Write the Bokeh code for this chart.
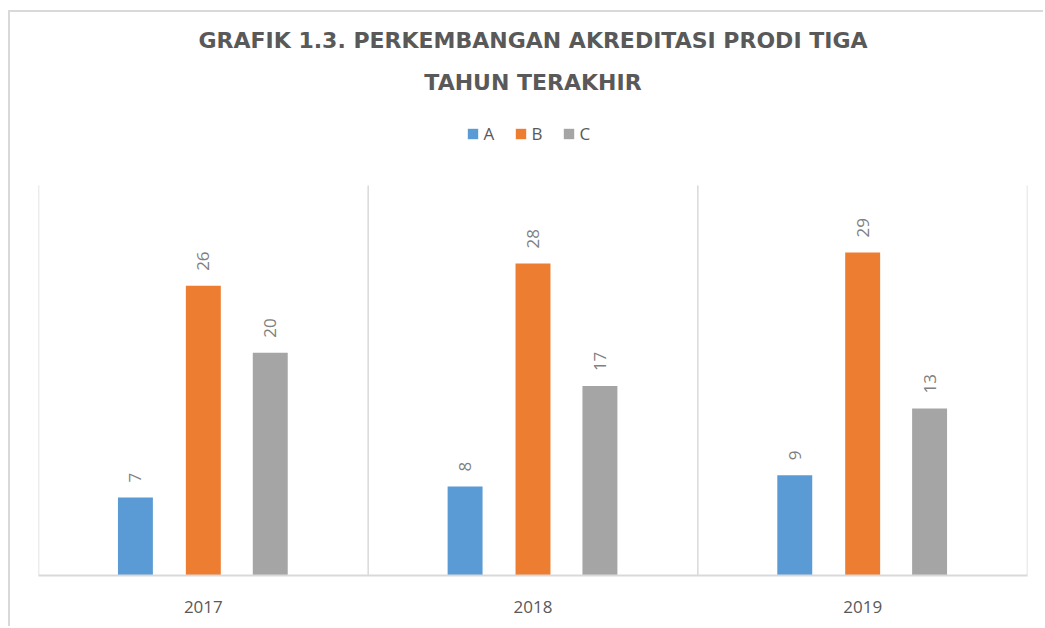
import math
from bokeh.plotting import figure
from bokeh.models import ColumnDataSource, Title, Legend, LegendItem, FixedTicker, Range1d
from bokeh.core.properties import value
from bokeh.embed import file_html
from bokeh.resources import INLINE

years = ["2017", "2018", "2019"]
series = ["A", "B", "C"]
vals_A = [7, 8, 9]
vals_B = [26, 28, 29]
vals_C = [20, 17, 15]
labels_A = ["7", "8", "9"]
labels_B = ["26", "28", "29"]
labels_C = ["20", "17", "13"]
colors = ["#5B9BD5", "#ED7D31", "#A5A5A5"]
y_max = 35

idx = list(range(len(years)))
offsets = [-0.206, 0.0, 0.203]
bar_w = 0.106

p = figure(width=1035, height=616, output_backend="svg", toolbar_location=None,
           x_range=Range1d(-0.5, 2.5), y_range=Range1d(0, 41.74),
           min_border_left=28, min_border_right=18, min_border_bottom=53, min_border_top=98)
p.margin = (10, 0, 0, 8)
p.styles = {"border-top": "2px solid #d9d9d9", "border-left": "2px solid #d9d9d9"}
p.outline_line_color = None
p.background_fill_color = "white"
p.border_fill_color = "white"
p.grid.visible = False

# category boundary gridlines
bounds = [i - 0.5 for i in idx] + [idx[-1] + 0.5]
p.segment(x0=bounds, y0=[0] * len(bounds), x1=bounds, y1=[y_max] * len(bounds),
          line_color="#d9d9d9", line_width=1.5)

renderers = []
for s, vals, labs, off, col in zip(series, [vals_A, vals_B, vals_C], [labels_A, labels_B, labels_C], offsets, colors):
    src = ColumnDataSource(dict(x=[i + off for i in idx], top=vals, lab=labs))
    r = p.vbar(x="x", top="top", width=bar_w, bottom=0, source=src, fill_color=col, line_color=None)
    renderers.append((s, r))
    p.text(x="x", y="top", text="lab", source=src, angle=math.pi / 2, y_offset=-15,
           text_align="left", text_baseline="middle", text_color="#808080",
           text_font=value("Open Sans"), text_font_size="17px")

p.yaxis.visible = False

xa = p.xaxis[0]
xa.ticker = FixedTicker(ticks=idx)
xa.major_label_overrides = {i: y for i, y in zip(idx, years)}
xa.axis_line_color = "#d9d9d9"
xa.axis_line_width = 2
xa.major_tick_line_color = None
xa.minor_tick_line_color = None
xa.major_label_text_font = "Open Sans"
xa.major_label_text_font_size = "17px"
xa.major_label_text_color = "#595959"
xa.major_label_standoff = 19

legend = Legend(items=[LegendItem(label=s, renderers=[r]) for s, r in renderers],
                orientation="horizontal", location="top_center",
                label_text_font="Open Sans", label_text_font_size="17px",
                label_text_color="#595959", glyph_width=13, glyph_height=13,
                spacing=10, label_standoff=5, border_line_color=None,
                background_fill_alpha=0, margin=12, padding=0)
p.add_layout(legend, "center")

t2 = Title(text="TAHUN TERAKHIR", align="center", text_font="DejaVu Sans",
           text_font_style="bold", text_font_size="22px", text_color="#595959", standoff=31)
t1 = Title(text="GRAFIK 1.3. PERKEMBANGAN AKREDITASI PRODI TIGA", align="center",
           text_font="DejaVu Sans", text_font_style="bold", text_font_size="22px",
           text_color="#595959", standoff=0)
p.add_layout(t2, "above")
p.add_layout(t1, "above")

open("out.html", "w").write(file_html(p, INLINE))
